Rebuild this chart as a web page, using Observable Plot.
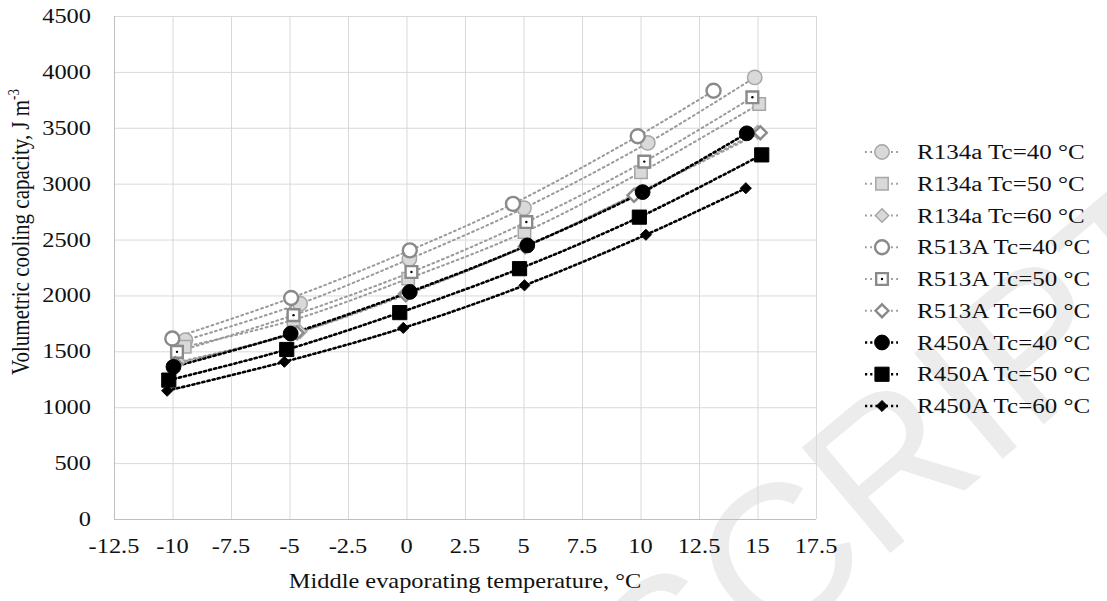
<!DOCTYPE html>
<html><head><meta charset="utf-8">
<script src="https://cdn.jsdelivr.net/npm/d3@7"></script>
<script src="https://cdn.jsdelivr.net/npm/@observablehq/plot@0.6"></script>
<style>
html,body{margin:0;padding:0;background:#fff;}
#wrap{position:relative;width:1107px;height:601px;overflow:hidden;font-family:"Liberation Serif","Times New Roman",serif;}
#wrap svg{position:absolute;left:0;top:0;}
</style></head><body><div id="wrap"></div>
<script>
// ---- data ----
const seriesNames = ["R134a Tc=40 °C","R134a Tc=50 °C","R134a Tc=60 °C","R513A Tc=40 °C","R513A Tc=50 °C","R513A Tc=60 °C","R450A Tc=40 °C","R450A Tc=50 °C","R450A Tc=60 °C"];
const tR134a40 = [-9.47,-4.57,0.10,5.00,10.29,14.86];
const vR134a40 = [1604,1931,2330,2786,3369,3955];
const tR134a50 = [-9.50,-4.85,0.05,5.02,10.00,15.05];
const vR134a50 = [1545,1786,2155,2571,3107,3717];
const tR134a60 = [-9.76,-4.57,-0.09,5.14,9.79,14.98];
const vR134a60 = [1410,1679,2020,2452,2913,3464];
const tR513A40 = [-10.03,-4.95,0.12,4.53,9.86,13.10];
const vR513A40 = [1619,1982,2408,2824,3429,3836];
const tR513A50 = [-9.83,-4.85,0.19,5.10,10.14,14.76];
const vR513A50 = [1500,1828,2214,2661,3202,3777];
const tR513A60 = [-9.90,-4.70,-0.05,5.05,9.70,15.10];
const vR513A60 = [1395,1670,2010,2440,2900,3460];
const tR450A40 = [-9.98,-4.97,0.12,5.14,10.07,14.52];
const vR450A40 = [1366,1663,2036,2452,2929,3455];
const tR450A50 = [-10.18,-5.14,-0.31,4.81,9.93,15.16];
const vR450A50 = [1247,1521,1851,2244,2705,3262];
const tR450A60 = [-10.25,-5.24,-0.16,5.02,10.21,14.48];
const vR450A60 = [1152,1411,1714,2095,2547,2964];
const xTicks = [-12.5,-10,-7.5,-5,-2.5,0,2.5,5,7.5,10,12.5,15,17.5];
const yTicks = [0,500,1000,1500,2000,2500,3000,3500,4000,4500];
const xLabel = "Middle evaporating temperature, °C";
const yLabel = "Volumetric cooling capacity, J m";
const yLabelSup = "-3";

const seriesT = [tR134a40,tR134a50,tR134a60,tR513A40,tR513A50,tR513A60,tR450A40,tR450A50,tR450A60];
const seriesV = [vR134a40,vR134a50,vR134a60,vR513A40,vR513A50,vR513A60,vR450A40,vR450A50,vR450A60];

// ---- styles ----
const greyLine = {stroke:"#9a9a9a", strokeWidth:2, strokeDasharray:"1.8 3.4"};
const blackLine = {stroke:"#000", strokeWidth:2.6, strokeDasharray:"2.2 3"};
const styles = [
  {line:greyLine, symbol:"circle",  r:7.2, fill:"#d9d9d9", stroke:"#a6a6a6", sw:1.5},
  {line:greyLine, symbol:"square",  r:7.0, fill:"#d9d9d9", stroke:"#a6a6a6", sw:1.5},
  {line:greyLine, symbol:"diamond2",r:6.0, fill:"#d9d9d9", stroke:"#a6a6a6", sw:1.5},
  {line:greyLine, symbol:"circle",  r:7.0, fill:"#fff", stroke:"#8a8a8a", sw:2.4},
  {line:greyLine, symbol:"square",  r:6.6, fill:"#fff", stroke:"#8a8a8a", sw:2.4, centerDot:true},
  {line:greyLine, symbol:"diamond2",r:5.8, fill:"#fff", stroke:"#8a8a8a", sw:2.4},
  {line:blackLine, symbol:"circle",  r:7.4, fill:"#000", stroke:"#000", sw:1},
  {line:blackLine, symbol:"square",  r:8.0, fill:"#000", stroke:"#000", sw:1},
  {line:blackLine, symbol:"diamond2",r:5.0, fill:"#000", stroke:"#000", sw:1}
];

const wrap = document.getElementById("wrap");

// watermark (behind)
const wm = d3.create("svg").attr("width",1107).attr("height",601);
wm.append("text").attr("transform","translate(665,742) rotate(-40)")
  .attr("font-family","Liberation Sans, Arial, sans-serif").attr("font-size",200)
  .attr("fill","#ececec").text("SCRIPT");
wrap.appendChild(wm.node());

const marks = [
  Plot.gridX(xTicks, {stroke:"#d9d9d9", strokeOpacity:1, strokeWidth:1}),
  Plot.gridY(yTicks, {stroke:"#d9d9d9", strokeOpacity:1, strokeWidth:1}),
  Plot.ruleX([-12.5], {stroke:"#bfbfbf", strokeWidth:1}),
  Plot.ruleY([0], {stroke:"#bfbfbf", strokeWidth:1})
];
seriesNames.forEach((name, k) => {
  const data = seriesT[k].map((t,i)=>({x:t, y:seriesV[k][i]}));
  marks.push(Plot.line(data, {x:"x", y:"y", curve:"catmull-rom", ...styles[k].line}));
});
seriesNames.forEach((name, k) => {
  const data = seriesT[k].map((t,i)=>({x:t, y:seriesV[k][i]}));
  const s = styles[k];
  marks.push(Plot.dot(data, {x:"x", y:"y", symbol:s.symbol, r:s.r, fill:s.fill, stroke:s.stroke, strokeWidth:s.sw}));
  if (s.centerDot) marks.push(Plot.dot(data, {x:"x", y:"y", r:1.2, fill:"#000"}));
});

const chart = Plot.plot({
  width:1107, height:601,
  marginLeft:114, marginRight:291, marginTop:16, marginBottom:82,
  x:{domain:[-12.5,17.5], axis:null},
  y:{domain:[0,4500], axis:null},
  style:{fontFamily:"Liberation Serif", fontSize:"20px", background:"transparent", color:"#111"},
  marks
});
wrap.appendChild(chart);

const sxs = chart.scale("x"), sys = chart.scale("y");
const fx = sxs.apply ? (v)=>sxs.apply(v) : d3.scaleLinear(sxs.domain, sxs.range);
const fy = sys.apply ? (v)=>sys.apply(v) : d3.scaleLinear(sys.domain, sys.range);
const y0px = fy(0), x0px = fx(-12.5);

// overlay: tick labels, axis titles, legend (text glyphs widened to match reference)
const SX = 1.22;
const ov = d3.create("svg").attr("width",1107).attr("height",601)
  .attr("font-family","Liberation Serif, Times New Roman, serif").attr("font-size",20).attr("fill","#111");
xTicks.forEach(v => {
  ov.append("text").attr("text-anchor","middle")
    .attr("transform",`translate(${fx(v)},${y0px+34}) scale(${SX},1)`).text(String(v));
});
yTicks.forEach(v => {
  ov.append("text").attr("text-anchor","end")
    .attr("transform",`translate(${x0px-23},${fy(v)+7}) scale(${SX},1)`).text(String(v));
});
ov.append("text").attr("text-anchor","middle")
  .attr("transform",`translate(465,588) scale(${SX},1)`).text(xLabel);
const yl = ov.append("text").attr("text-anchor","middle").attr("font-size",21)
  .attr("transform",`translate(29,232) rotate(-90) scale(1,${SX})`);
yl.append("tspan").text(yLabel);
yl.append("tspan").attr("font-size",13).attr("dy",-8).text(yLabelSup);

const legY0 = 152, legDy = 31.75;
seriesNames.forEach((name,k) => {
  const s = styles[k];
  const y = legY0 + k*legDy;
  const g = ov.append("g");
  g.append("line").attr("x1",865).attr("x2",898).attr("y1",y).attr("y2",y)
    .attr("stroke",s.line.stroke).attr("stroke-width",s.line.strokeWidth).attr("stroke-dasharray",s.line.strokeDasharray);
  const sym = {circle:d3.symbolCircle, square:d3.symbolSquare, diamond2:d3.symbolDiamond2}[s.symbol];
  g.append("path").attr("d", d3.symbol(sym, Math.PI*s.r*s.r)())
    .attr("transform",`translate(882,${y})`).attr("fill",s.fill).attr("stroke",s.stroke).attr("stroke-width",s.sw);
  if (s.centerDot) g.append("circle").attr("cx",882).attr("cy",y).attr("r",1.2).attr("fill","#000");
  g.append("text").attr("transform",`translate(917,${y+7}) scale(1.25,1)`).text(name);
});
wrap.appendChild(ov.node());
</script>
</body></html>
